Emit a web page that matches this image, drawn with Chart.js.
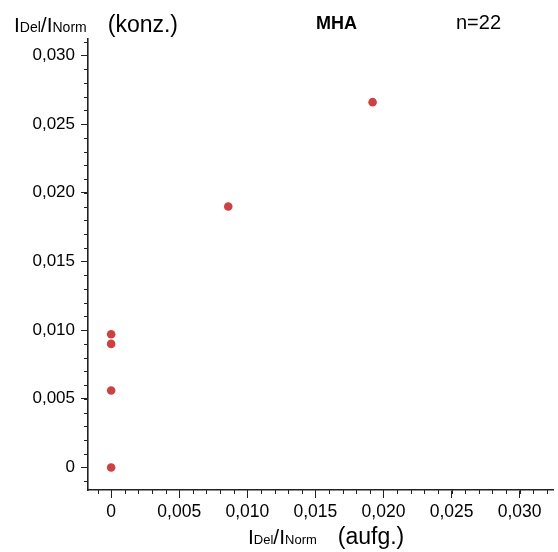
<!DOCTYPE html>
<html><head><meta charset="utf-8">
<script src="https://cdn.jsdelivr.net/npm/chart.js@4/dist/chart.umd.min.js"></script>
<style>html,body{margin:0;padding:0;background:#fff}#wrap{width:558px;height:552px;position:relative}</style>
</head><body><div id="wrap"><canvas id="c" width="558" height="552"></canvas></div>
<script>
// Data
const xValues = [0, 0, 0, 0, 0.0086, 0.0192];
const yValues = [0, 0.0056, 0.0090, 0.0097, 0.0190, 0.0266];
const xTickValues = [0, 0.005, 0.010, 0.015, 0.020, 0.025, 0.030];
const yTickValues = [0, 0.005, 0.010, 0.015, 0.020, 0.025, 0.030];
const minorStep = 0.001;
const seriesName = "MHA";
const sampleLabel = "n=22";

const points = xValues.map((x, i) => ({x: x, y: yValues[i]}));
const fmt = v => Math.abs(v) < 1e-9 ? "0" : v.toFixed(3).replace('.', ',');
const FONT = "'Liberation Sans', Arial, sans-serif";
const AX = '#222';

function drawSubText(ctx, x, y, parts) {
  ctx.textAlign = 'left'; ctx.textBaseline = 'alphabetic';
  for (const p of parts) {
    ctx.font = (p.bold ? 'bold ' : '') + p.size + 'px ' + FONT;
    ctx.fillText(p.t, x, y);
    x += ctx.measureText(p.t).width + (p.gap || 0);
  }
}

const decor = {
  id: 'decor',
  afterDraw(chart) {
    const ctx = chart.ctx, xs = chart.scales.x, ys = chart.scales.y;
    ctx.save();
    ctx.strokeStyle = AX; ctx.lineWidth = 1;
    // minor ticks
    for (let v = Math.ceil(xs.min / minorStep) * minorStep; v <= xs.max + 1e-12; v += minorStep) {
      const px = Math.round(xs.getPixelForValue(v)) + 0.5;
      ctx.beginPath(); ctx.moveTo(px, xs.top); ctx.lineTo(px, xs.top + 4); ctx.stroke();
    }
    for (let v = Math.ceil(ys.min / minorStep) * minorStep; v <= ys.max + 1e-12; v += minorStep) {
      const py = Math.round(ys.getPixelForValue(v)) + 0.5;
      ctx.beginPath(); ctx.moveTo(ys.right, py); ctx.lineTo(ys.right - 4, py); ctx.stroke();
    }
    ctx.fillStyle = '#000';
    // y title
    drawSubText(ctx, 14, 32, [
      {t: 'I', size: 21}, {t: 'Del', size: 14}, {t: '/I', size: 21}, {t: 'Norm', size: 14, gap: 21}, {t: '(konz.)', size: 23}
    ]);
    // x title
    drawSubText(ctx, 248, 544, [
      {t: 'I', size: 21}, {t: 'Del', size: 13}, {t: '/I', size: 21}, {t: 'Norm', size: 13, gap: 21}, {t: '(aufg.)', size: 23}
    ]);
    // series name and n
    drawSubText(ctx, 316, 29, [{t: seriesName, size: 18, bold: true}]);
    drawSubText(ctx, 456, 29, [{t: sampleLabel, size: 20}]);
    ctx.restore();
  }
};

new Chart(document.getElementById('c'), {
  type: 'scatter',
  data: { datasets: [{
    label: seriesName, data: points,
    backgroundColor: '#cc4242', borderColor: '#cc4242',
    pointRadius: 4.3, pointHoverRadius: 4.3, borderWidth: 0
  }]},
  options: {
    responsive: false, animation: false, devicePixelRatio: 1,
    layout: { padding: { top: 39, right: 0, left: 0, bottom: 0 } },
    plugins: { legend: { display: false }, tooltip: { enabled: false }, title: { display: false } },
    scales: {
      x: {
        type: 'linear', min: -0.0017, max: 0.0325,
        afterBuildTicks: s => { s.ticks = xTickValues.map(v => ({value: v})); },
        afterFit: s => { s.height = 62; },
        border: { display: true, color: AX, width: 1.6 },
        grid: { drawOnChartArea: false, drawTicks: true, tickLength: 8, color: AX, tickColor: AX },
        ticks: { callback: v => fmt(v), color: '#000', font: { family: FONT, size: 17.5 }, padding: 4, maxRotation: 0, autoSkip: false }
      },
      y: {
        type: 'linear', min: -0.00164, max: 0.0312,
        afterBuildTicks: s => { s.ticks = yTickValues.map(v => ({value: v})); },
        afterFit: s => { s.width = 88; },
        border: { display: true, color: AX, width: 1.6 },
        grid: { drawOnChartArea: false, drawTicks: true, tickLength: 7, color: AX, tickColor: AX },
        ticks: { callback: v => fmt(v), color: '#000', font: { family: FONT, size: 17 }, padding: 6, autoSkip: false }
      }
    }
  },
  plugins: [decor]
});
</script></body></html>
